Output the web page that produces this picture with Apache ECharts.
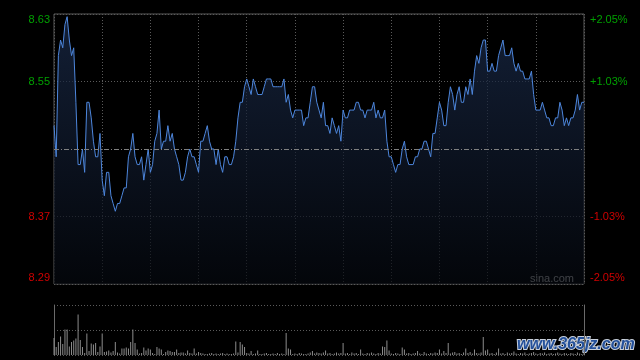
<!DOCTYPE html>
<html>
<head>
<meta charset="utf-8">
<script src="https://cdn.jsdelivr.net/npm/echarts@6/dist/echarts.min.js"></script>
<style>
html,body{margin:0;padding:0;background:#000;}
#c{width:640px;height:360px;}
</style>
</head>
<body>
<div id="c"></div>
<script>
const prevClose = 8.46;
const prices = [
8.49,8.45,8.58,8.60,8.59,8.62,8.63,8.60,8.58,8.59,
8.52,8.44,8.44,8.46,8.43,8.52,8.52,8.50,8.47,8.45,
8.45,8.48,8.42,8.40,8.43,8.43,8.40,8.39,8.38,8.39,
8.39,8.40,8.41,8.41,8.45,8.46,8.48,8.45,8.44,8.44,
8.45,8.42,8.44,8.46,8.43,8.44,8.47,8.48,8.51,8.46,
8.47,8.47,8.49,8.47,8.48,8.46,8.45,8.44,8.42,8.42,
8.43,8.45,8.46,8.45,8.45,8.44,8.43,8.47,8.47,8.48,
8.49,8.47,8.46,8.46,8.44,8.46,8.44,8.43,8.45,8.45,
8.44,8.44,8.45,8.47,8.50,8.52,8.52,8.54,8.55,8.54,
8.53,8.55,8.54,8.53,8.53,8.53,8.54,8.55,8.55,8.55,
8.54,8.54,8.54,8.54,8.54,8.55,8.52,8.53,8.51,8.50,
8.51,8.51,8.51,8.51,8.49,8.50,8.50,8.52,8.54,8.54,
8.52,8.51,8.50,8.52,8.49,8.49,8.48,8.50,8.49,8.48,
8.49,8.47,8.51,8.50,8.50,8.51,8.51,8.51,8.52,8.52,
8.51,8.51,8.50,8.51,8.51,8.51,8.52,8.50,8.51,8.50,
8.50,8.51,8.47,8.45,8.45,8.44,8.43,8.44,8.44,8.46,
8.47,8.45,8.44,8.44,8.44,8.45,8.45,8.46,8.46,8.47,
8.47,8.46,8.45,8.48,8.48,8.50,8.52,8.51,8.49,8.49,
8.52,8.54,8.53,8.51,8.53,8.54,8.52,8.52,8.54,8.53,
8.55,8.53,8.56,8.58,8.57,8.59,8.60,8.60,8.56,8.56,
8.57,8.56,8.56,8.58,8.59,8.60,8.58,8.58,8.58,8.59,
8.57,8.56,8.57,8.56,8.56,8.55,8.55,8.55,8.56,8.53,
8.51,8.51,8.51,8.52,8.51,8.50,8.50,8.49,8.49,8.50,
8.50,8.52,8.51,8.49,8.50,8.49,8.50,8.50,8.51,8.53,
8.51,8.52,8.52
];
const volumes = [
34,16,26,37,22,51,51,17,26,29,
33,81,30,16,4,43,8,23,21,24,
6,17,43,6,7,9,5,8,26,5,
3,13,13,15,13,26,51,24,11,3,
4,15,9,13,11,4,2,16,13,11,
2,6,9,8,6,6,11,4,5,5,
3,9,4,3,13,3,6,4,3,2,
2,3,4,2,3,2,3,4,2,3,
2,2,3,27,5,26,21,16,4,3,
8,2,3,9,2,2,3,4,2,2,
3,2,4,2,3,2,44,13,11,2,
3,2,4,3,2,2,3,5,8,3,
5,4,3,5,9,3,4,2,3,5,
3,4,24,3,4,2,5,3,4,2,
11,3,2,4,3,5,3,2,4,3,
17,16,29,9,3,2,4,3,2,15,
11,3,4,2,3,4,8,3,2,6,
3,2,4,3,5,4,11,3,8,4,
24,3,5,6,3,4,2,5,13,4,
6,3,11,4,3,5,36,9,11,3,
4,2,5,13,3,4,2,5,3,4,
7,3,2,4,3,5,2,3,4,6,
3,2,4,3,5,2,3,4,2,3,
5,3,2,4,3,2,4,3,2,5,
3,2,4
];
const priceTicks = ['8.29','8.37','','8.55','8.63'];
const pctTicks = ['-2.05%','-1.03%','','+1.03%','+2.05%'];
const tickStyles = ['rb','r','r','g','gt'];
const pctRange = 2.05;
const pctStep = 1.025;

const pctData = prices.map((p, i) => [i, (p - prevClose) / prevClose * 100]);
const volData = volumes.map((v, i) => [i, v]);
const lastIdx = prices.length - 1;

const chart = echarts.init(document.getElementById('c'), null, {renderer: 'canvas'});
const font = 'Liberation Sans, Arial, sans-serif';
const GREEN = '#00a000', RED = '#d00000';
const rich = {
  g: {color: GREEN, fontSize: 11, fontFamily: font},
  gt: {color: GREEN, fontSize: 11, fontFamily: font, padding: [12, 0, 0, 0]},
  r: {color: RED, fontSize: 11, fontFamily: font},
  rb: {color: RED, fontSize: 11, fontFamily: font, padding: [0, 0, 12, 0]}
};
const fmt = (arr) => (v, i) => arr[i] ? '{' + tickStyles[i] + '|' + arr[i] + '}' : '';

chart.setOption({
  backgroundColor: '#000',
  animation: false,
  grid: [
    {left: 54, right: 56, top: 14, height: 270, show: true, borderColor: '#5a5a5a', borderWidth: 1, backgroundColor: 'transparent'},
    {left: 54, right: 56, top: 305, height: 50}
  ],
  xAxis: [
    {type: 'value', gridIndex: 0, min: 0, max: lastIdx, interval: 22,
     axisLine: {show: false}, axisTick: {show: false}, axisLabel: {show: false},
     splitLine: {show: true, lineStyle: {color: '#5a5a5a', type: [1, 2], width: 1}}},
    {type: 'value', gridIndex: 1, min: 0, max: lastIdx, interval: 22,
     axisLine: {show: false}, axisTick: {show: false}, axisLabel: {show: false},
     splitLine: {show: false}}
  ],
  yAxis: [
    {type: 'value', gridIndex: 0, min: -pctRange, max: pctRange, interval: pctStep,
     axisLine: {show: false}, axisTick: {show: false},
     axisLabel: {show: true, margin: 4, formatter: fmt(priceTicks), rich: rich},
     splitLine: {show: true, lineStyle: {color: ['#5a5a5a', '#5a5a5a', 'rgba(0,0,0,0)', '#5a5a5a', '#5a5a5a'], type: [1, 2], width: 1}}},
    {type: 'value', gridIndex: 0, position: 'right', min: -pctRange, max: pctRange, interval: pctStep,
     axisLine: {show: false}, axisTick: {show: false},
     axisLabel: {show: true, margin: 6, formatter: fmt(pctTicks), rich: rich},
     splitLine: {show: false}},
    {type: 'value', gridIndex: 1, min: 0, max: 100, interval: 50,
     axisLine: {show: true, lineStyle: {color: '#6a6a6a', width: 1}}, axisTick: {show: false}, axisLabel: {show: false},
     splitLine: {show: true, lineStyle: {color: '#5a5a5a', type: [1, 2], width: 1}}},
    {type: 'value', gridIndex: 1, position: 'right', min: 0, max: 100, interval: 50,
     axisLine: {show: true, lineStyle: {color: '#6a6a6a', width: 1}}, axisTick: {show: false}, axisLabel: {show: false},
     splitLine: {show: false}}
  ],
  series: [
    {type: 'line', xAxisIndex: 0, yAxisIndex: 0, data: pctData, showSymbol: false, symbol: 'none',
     lineStyle: {color: '#4d86dc', width: 1},
     areaStyle: {origin: 'start', color: new echarts.graphic.LinearGradient(0, 0, 0, 1, [
       {offset: 0, color: '#1b2c4c'}, {offset: 1, color: '#05080e'}])},
     markLine: {silent: true, symbol: 'none', label: {show: false},
       lineStyle: {color: '#808080', type: [5, 2, 1, 2], width: 1},
       data: [{yAxis: 0}]}},
    {type: 'bar', xAxisIndex: 1, yAxisIndex: 2, data: volData, barWidth: 1,
     itemStyle: {color: '#8c8c8c'}}
  ],
  graphic: [
    {type: 'text', right: 66, top: 273, style: {text: 'sina.com', fill: '#c0c0c0', font: '11px ' + font}},
    {type: 'text', left: 516, top: 336, style: {text: 'www.365jz.com', fill: '#24509a', stroke: '#c8d0dc', lineWidth: 2, font: 'bold italic 16px ' + font}}
  ]
});
</script>
</body>
</html>
